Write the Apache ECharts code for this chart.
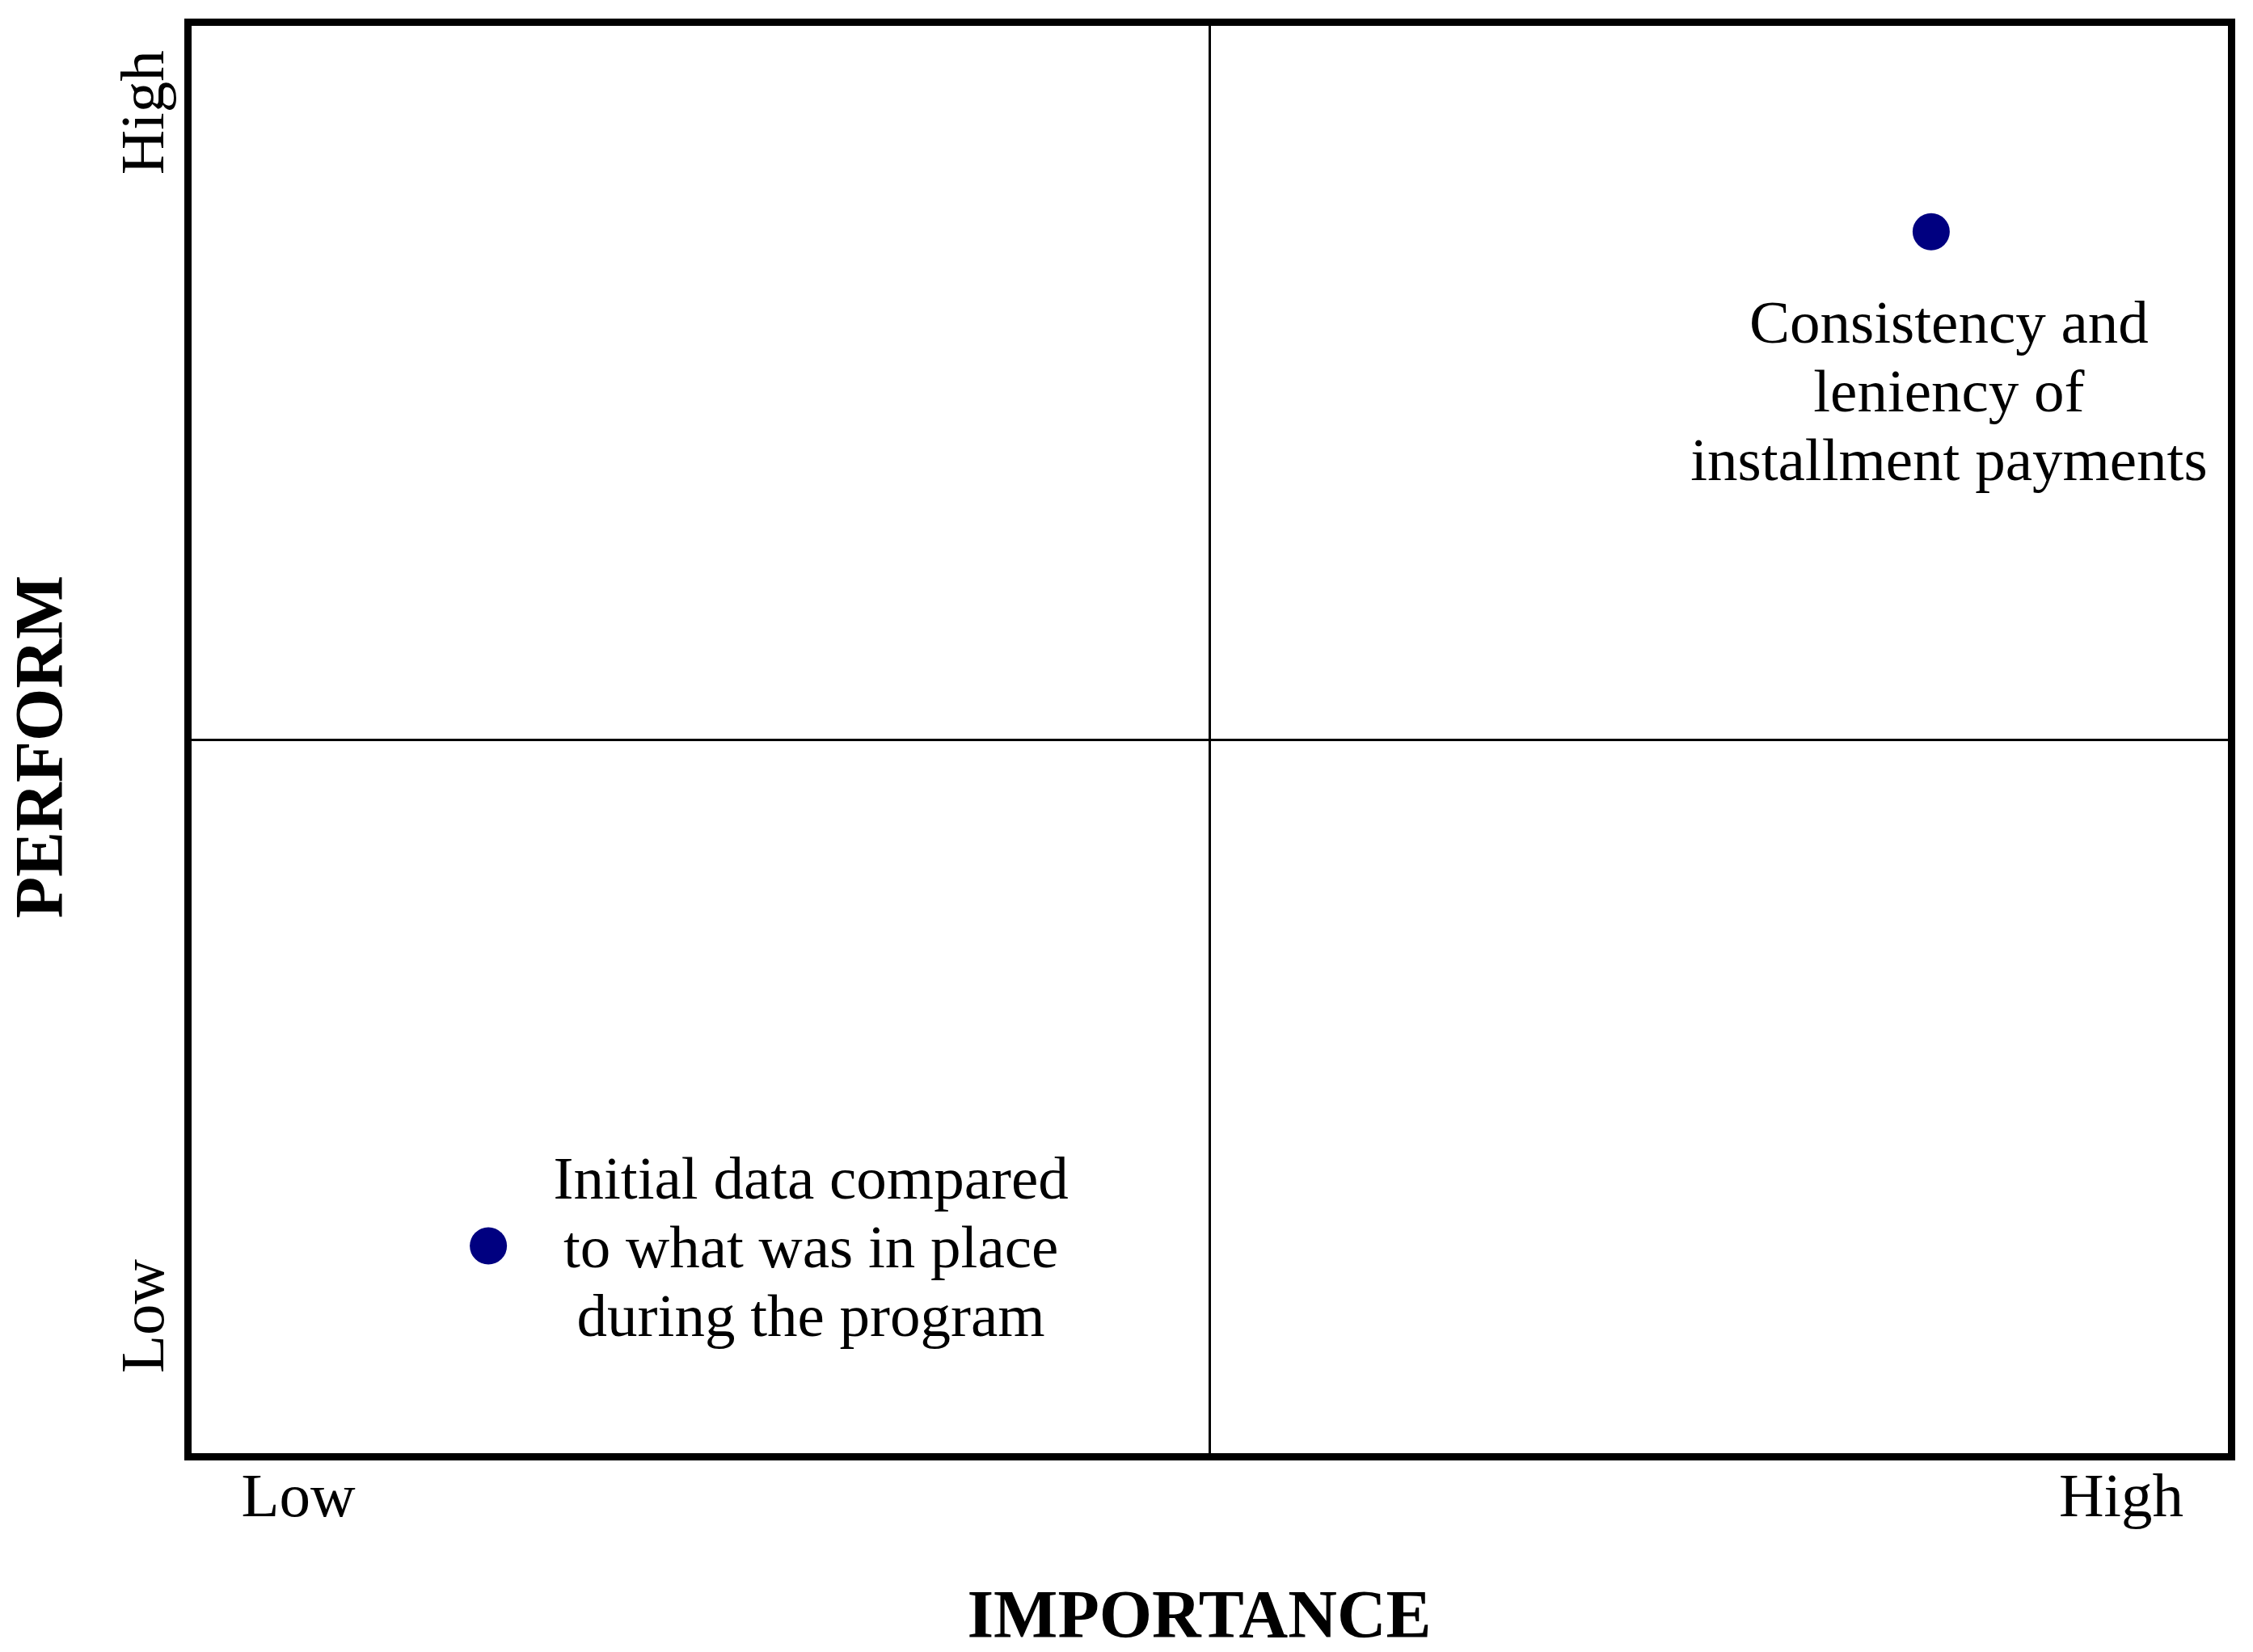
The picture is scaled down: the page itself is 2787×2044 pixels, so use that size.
<!DOCTYPE html>
<html>
<head>
<meta charset="utf-8">
<script src="https://cdn.jsdelivr.net/npm/echarts@6/dist/echarts.min.js"></script>
<style>
    html, body { margin: 0; padding: 0; background: #fff; }
    #quadChart { width: 2787px; height: 2044px; }
</style>
</head>
<body>
<div id="quadChart"></div>
<script>
// 数据
const itemNames = [
    'Consistency and\nleniency of\ninstallment payments',
    'Initial data compared\nto what was in place\nduring the program'
];
const importance = [8.53, 1.47];
const perform = [8.54, 1.47];

// 坐标轴刻度文字
const xTickLabels = ['Low', 'High'];
const xTickValues = [0.54, 9.46];
const yTickLabels = ['Low', 'High'];
const yTickValues = [0.98, 9.37];

// 标签偏移 (样式)
const labelOffsets = [[22, 203], [399, 7]];

const serif = '"Liberation Serif", "Times New Roman", serif';

function tickText(values, labels) {
    return function (v) {
        let best = 0;
        for (let i = 1; i < values.length; i++) {
            if (Math.abs(values[i] - v) < Math.abs(values[best] - v)) best = i;
        }
        return labels[best];
    };
}

let myChart = echarts.init(document.getElementById('quadChart'));

myChart.setOption({
    backgroundColor: '#fff',
    animation: false,
    grid: {
        left: 232.5,
        top: 27.5,
        right: 26.5,
        bottom: 241.5,
        containLabel: false,
        outerBoundsMode: 'none',
        show: true,
        borderColor: '#000',
        borderWidth: 9,
        backgroundColor: 'transparent'
    },
    xAxis: {
        type: 'value',
        min: 0,
        max: 10,
        interval: 5,
        name: 'IMPORTANCE',
        nameLocation: 'middle',
        nameGap: 160,
        nameTextStyle: {
            fontFamily: serif, fontSize: 84, fontWeight: 'bold', color: '#000',
            padding: [0, 26, 0, 0]
        },
        axisLine: { show: false },
        axisTick: { show: false },
        splitLine: { show: true, lineStyle: { color: '#000', width: 3 } },
        axisLabel: {
            show: true,
            customValues: xTickValues,
            margin: 15,
            fontFamily: serif,
            fontSize: 77,
            color: '#000',
            formatter: tickText(xTickValues, xTickLabels)
        }
    },
    yAxis: {
        type: 'value',
        min: 0,
        max: 10,
        interval: 5,
        name: 'PERFORM',
        nameLocation: 'middle',
        nameGap: 135,
        nameTextStyle: {
            fontFamily: serif, fontSize: 84, fontWeight: 'bold', color: '#000',
            padding: [0, 18, 0, 0]
        },
        axisLine: { show: false },
        axisTick: { show: false },
        splitLine: { show: true, lineStyle: { color: '#000', width: 3 } },
        axisLabel: {
            show: true,
            customValues: yTickValues,
            rotate: 90,
            margin: 12,
            fontFamily: serif,
            fontSize: 77,
            color: '#000',
            formatter: tickText(yTickValues, yTickLabels)
        }
    },
    series: [{
        type: 'scatter',
        symbol: 'circle',
        symbolSize: 46,
        itemStyle: { color: '#000080', opacity: 1 },
        data: importance.map(function (x, i) {
            return {
                name: itemNames[i],
                value: [x, perform[i]],
                label: {
                    show: true,
                    position: 'inside',
                    offset: labelOffsets[i],
                    align: 'center',
                    verticalAlign: 'middle',
                    formatter: '{b}',
                    fontFamily: serif,
                    fontSize: 75,
                    lineHeight: 85,
                    color: '#000',
                    opacity: 1
                }
            };
        })
    }]
});
</script>
</body>
</html>
